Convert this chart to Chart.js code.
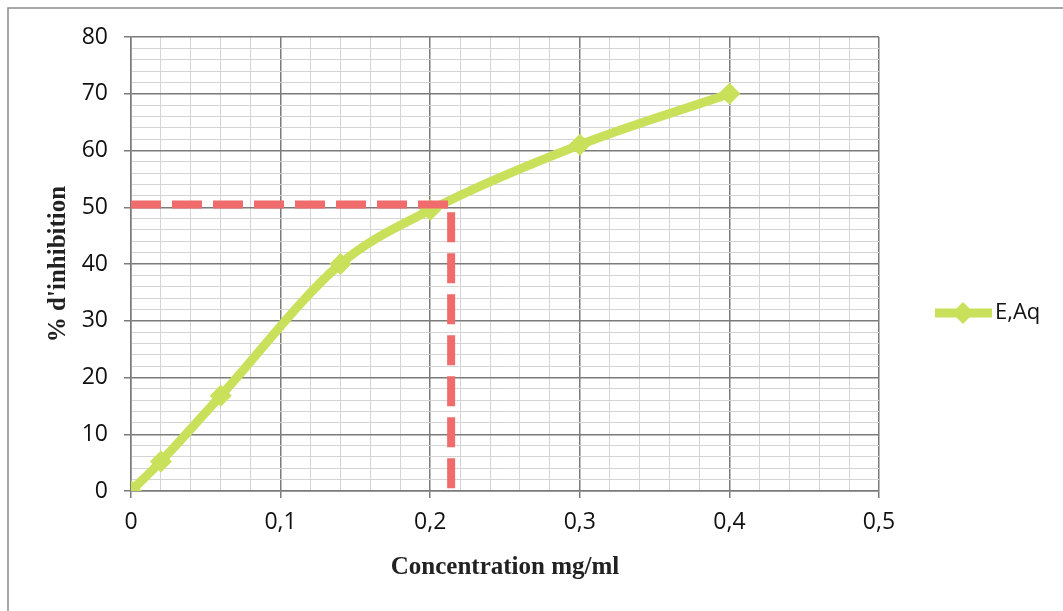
<!DOCTYPE html>
<html>
<head>
<meta charset="utf-8">
<script src="https://cdn.jsdelivr.net/npm/chart.js@4"></script>
<style>
  html, body { margin: 0; padding: 0; background: #fff; }
  #wrap { width: 1063px; height: 611px; }
</style>
</head>
<body>
<div id="wrap"><canvas id="inhibChart"></canvas></div>
<script>
// data
const concentrations = [0, 0.02, 0.06, 0.14, 0.2, 0.3, 0.4];
const inhibition = [0, 5.2, 16.8, 40, 49.5, 61, 70];
const ic50X = [0, 0.214, 0.214];
const ic50Y = [50.5, 50.5, 0];
const seriesLabel = 'E,Aq';

const green = '#c8e05a';
const red = '#f06b6b';

function isMajor(v, step) {
   const r = v / step;
   return Math.abs(r - Math.round(r)) < 1e-6;
}

// outer frame + hand drawn legend (line with diamond)
const extras = {
   id: 'extras',
   afterDraw(chart) {
      const c = chart.ctx;
      c.save();
      c.strokeStyle = '#8a8a8a';
      c.lineWidth = 1.5;
      c.beginPath();
      c.moveTo(8, 611);
      c.lineTo(8, 8);
      c.lineTo(1063, 8);
      c.stroke();

      // legend
      const ds = chart.data.datasets[1];
      c.strokeStyle = ds.borderColor;
      c.lineWidth = 9;
      c.beginPath();
      c.moveTo(935, 313);
      c.lineTo(992, 313);
      c.stroke();
      c.fillStyle = ds.borderColor;
      c.beginPath();
      c.moveTo(963, 302);
      c.lineTo(974, 313);
      c.lineTo(963, 324);
      c.lineTo(952, 313);
      c.closePath();
      c.fill();
      c.fillStyle = '#111';
      c.font = '22px "Open Sans"';
      c.textBaseline = 'middle';
      c.fillText(ds.label, 995, 313);
      c.restore();
   }
};

new Chart(document.getElementById('inhibChart'), {
   type: 'line',
   data: {
      datasets: [
         {
            label: 'IC50',
            data: ic50X.map((x, i) => ({ x: x, y: ic50Y[i] })),
            borderColor: red,
            borderWidth: 8,
            borderDash: [30, 11],
            pointRadius: 0,
            tension: 0,
            order: 0
         },
         {
            label: seriesLabel,
            data: concentrations.map((x, i) => ({ x: x, y: inhibition[i] })),
            borderColor: green,
            backgroundColor: green,
            borderWidth: 9,
            pointStyle: 'rectRot',
            pointRadius: 11,
            pointBorderWidth: 0,
            cubicInterpolationMode: 'monotone',
            order: 1
         }
      ]
   },
   options: {
      responsive: true,
      maintainAspectRatio: false,
      animation: false,
      layout: { padding: { left: 40, right: 184, top: 37, bottom: 24 } },
      scales: {
         x: {
            type: 'linear',
            min: 0,
            max: 0.5,
            afterFit: s => { s.height = 96; },
            ticks: {
               stepSize: 0.02,
               autoSkip: false,
               maxRotation: 0,
               padding: 11,
               color: '#111',
               font: { family: '"Open Sans"', size: 23 },
               callback: v => isMajor(v, 0.1) ? String(Math.round(v * 10) / 10).replace('.', ',') : ''
            },
            grid: {
               color: c => isMajor(c.tick.value, 0.1) ? '#7b7b7b' : '#d4d4d4',
               tickColor: c => isMajor(c.tick.value, 0.1) ? '#7b7b7b' : 'rgba(0,0,0,0)',
               tickLength: 7,
               lineWidth: c => isMajor(c.tick.value, 0.1) ? 1.5 : 1
            },
            border: { color: '#7b7b7b', width: 1.5 },
            title: {
               display: true,
               text: 'Concentration mg/ml',
               color: '#222',
               font: { family: '"Liberation Serif"', size: 25, weight: 'bold' },
               padding: { top: 4, bottom: 4 }
            }
         },
         y: {
            min: 0,
            max: 80,
            afterFit: s => { s.width = 91; },
            ticks: {
               stepSize: 2,
               autoSkip: false,
               padding: 16,
               color: '#111',
               font: { family: '"Open Sans"', size: 23 },
               callback: v => v % 10 === 0 ? v : ''
            },
            grid: {
               color: c => c.tick.value % 10 === 0 ? '#7b7b7b' : '#d4d4d4',
               tickColor: c => c.tick.value % 10 === 0 ? '#7b7b7b' : 'rgba(0,0,0,0)',
               tickLength: 7,
               lineWidth: c => c.tick.value % 10 === 0 ? 1.5 : 1
            },
            border: { color: '#7b7b7b', width: 1.5 },
            title: {
               display: true,
               text: "% d'inhibition",
               color: '#222',
               font: { family: '"Liberation Serif"', size: 25, weight: 'bold' },
               padding: { top: 4, bottom: 4 }
            }
         }
      },
      plugins: {
         legend: { display: false },
         tooltip: { enabled: false }
      }
   },
   plugins: [extras]
});
</script>
</body>
</html>
